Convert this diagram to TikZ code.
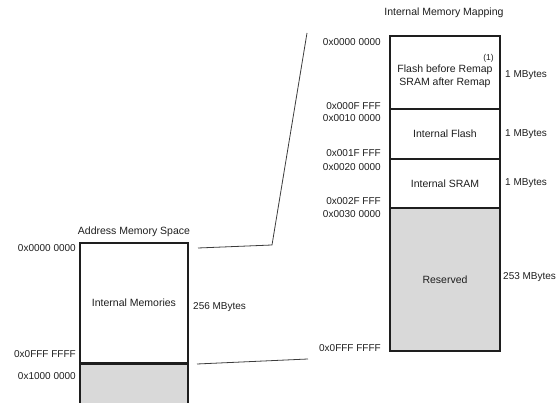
\documentclass[tikz,border=0pt]{standalone}
\usepackage{fontspec}
\setmainfont{Liberation Sans}
\usepackage{xcolor}
\definecolor{rsv-gray}{HTML}{D9D9D9}
\definecolor{ink}{HTML}{1E1E1E}
\definecolor{wire}{HTML}{3C3C3C}

\tikzset{
  seg/.style={draw=ink, line width=1.3pt, inner sep=0pt, text=ink,
              font=\fontsize{10.5}{12.5}\selectfont, align=center},
  addr/.style={anchor=east, inner sep=0pt, text=ink, font=\fontsize{10}{12}\selectfont},
  sizelbl/.style={anchor=west, inner sep=0pt, text=ink, font=\fontsize{10}{12}\selectfont},
  caption/.style={inner sep=0pt, text=ink, font=\fontsize{10.5}{12.5}\selectfont}
}

\begin{document}
\begin{tikzpicture}[x=1pt, y=-1pt]
    \useasboundingbox (0,0) rectangle (558,403);
    % address memory space (left)
    \node[caption] (addrcap) at (134,232) {Address Memory Space};
    \node[seg, fill=white, minimum width=108pt, minimum height=120pt] (intmem) at (134,303) {Internal Memories};
    \node[seg, fill=rsv-gray, minimum width=108pt, minimum height=60pt] (extmem) at (134,393) {};
    \draw[ink, line width=2pt] (intmem.south west) -- (intmem.south east);
    \node[addr] (la0) at (76,248) {0x0000 0000};
    \node[addr] (la1) at (76,354) {0x0FFF FFFF};
    \node[addr] (la2) at (76,376) {0x1000 0000};
    \node[sizelbl] (lsz) at (193,307) {256 MBytes};

    % internal memory mapping (right)
    \node[caption] (mapcap) at (444,13) {Internal Memory Mapping};
    \node[seg, fill=white, minimum width=110pt, minimum height=73pt] (remap) at (445,72.5) {};
    \node[caption, align=center, font=\fontsize{10.5}{13}\selectfont] (remaptxt) at (445,76)
          {Flash before Remap\\SRAM after Remap};
    \node[seg, fill=white, minimum width=110pt, minimum height=50pt] (intflash) at (445,134) {Internal Flash};
    \node[seg, fill=white, minimum width=110pt, minimum height=49pt] (intsram) at (445,183.5) {Internal SRAM};
    \node[seg, fill=rsv-gray, minimum width=110pt, minimum height=143pt] (reserved) at (445,279.5) {Reserved};
    \node[addr, font=\fontsize{8.5}{10}\selectfont] (note) at (494,58) {(1)};
    \node[addr] (ra0) at (381,42) {0x0000 0000};
    \node[addr] (ra1) at (381,106) {0x000F FFF};
    \node[addr] (ra2) at (381,118) {0x0010 0000};
    \node[addr] (ra3) at (381,153) {0x001F FFF};
    \node[addr] (ra4) at (381,167) {0x0020 0000};
    \node[addr] (ra5) at (381,201) {0x002F FFF};
    \node[addr] (ra6) at (381,214) {0x0030 0000};
    \node[addr] (ra7) at (381,348) {0x0FFF FFFF};
    \node[sizelbl] (rsz0) at (505,75) {1 MBytes};
    \node[sizelbl] (rsz1) at (505,134) {1 MBytes};
    \node[sizelbl] (rsz2) at (505,183) {1 MBytes};
    \node[sizelbl] (rsz3) at (503,277) {253 MBytes};

    % zoom lines
    \coordinate (zt0) at (198,248);
    \coordinate (zt1) at (272,245);
    \coordinate (zt2) at (307,33);
    \coordinate (zb0) at (197,364);
    \coordinate (zb1) at (308,359);
    \draw[wire, line width=0.8pt] (zt0) -- (zt1) -- (zt2);
    \draw[wire, line width=0.8pt] (zb0) -- (zb1);
\end{tikzpicture}
\end{document}
